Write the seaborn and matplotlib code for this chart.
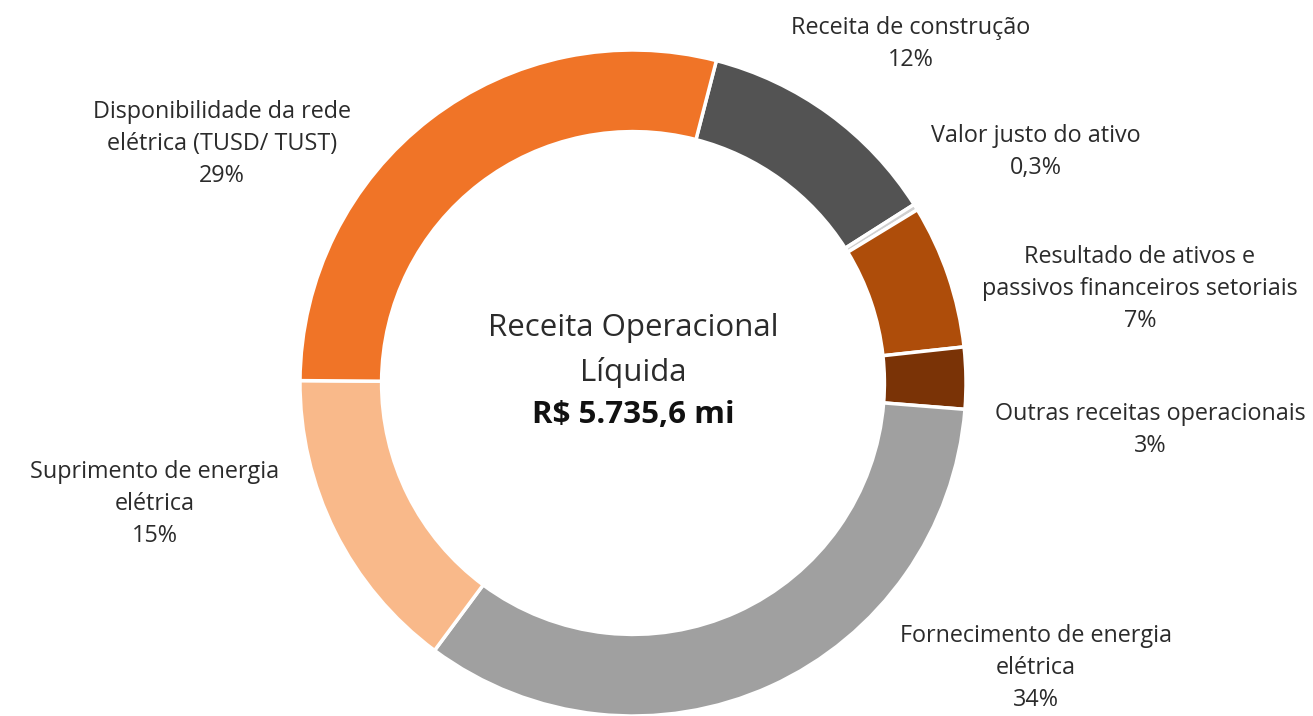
import matplotlib
matplotlib.use("Agg")
import matplotlib.pyplot as plt
import seaborn as sns

sns.set_theme(style="white")
plt.rcParams['font.family'] = ['Open Sans', 'DejaVu Sans']

categories = ["Receita de construção", "Valor justo do ativo",
              "Resultado de ativos e\npassivos financeiros setoriais",
              "Outras receitas operacionais",
              "Fornecimento de energia\nelétrica",
              "Suprimento de energia\nelétrica",
              "Disponibilidade da rede\nelétrica (TUSD/ TUST)"]
values = [12, 0.3, 7, 3, 34, 15, 29]
pct_labels = ["12%", "0,3%", "7%", "3%", "34%", "15%", "29%"]
colors = ["#535353", "#D0D0D0", "#AE4D0A", "#7A3306", "#A0A0A0", "#F9B98A", "#F07427"]
center_lines = ["Receita Operacional", "Líquida"]
center_total = "R$ 5.735,6 mi"

W, H = 1313, 716
fig = plt.figure(figsize=(W / 100, H / 100), dpi=100)
ax = fig.add_axes([0, 0, 1, 1])

cx, cy, R = 633, H - 383, 333
ax.pie(values, colors=colors, startangle=75.5, counterclock=False,
       center=(cx, cy), radius=R,
       wedgeprops=dict(width=R * 0.245, edgecolor="white", linewidth=2.5))
ax.set_xlim(0, W)
ax.set_ylim(0, H)
ax.set_aspect("equal")
ax.axis("off")

# label anchor positions (image pixel coords of text block centres)
label_pos = [(911, 44), (1036, 152), (1140, 289), (1150, 430),
             (1036, 668), (155, 504), (222, 144)]
for cat, pct, (x, y) in zip(categories, pct_labels, label_pos):
    ax.text(x, H - y, f"{cat}\n{pct}", ha="center", va="center",
            fontsize=16.8, color="#2b2b2b", linespacing=1.46)

for line, y in zip(center_lines, [328, 372]):
    ax.text(cx, H - y, line, ha="center", va="center",
            fontsize=22.5, color="#2b2b2b")
ax.text(cx, H - 415, center_total, ha="center", va="center",
        fontsize=22.5, fontweight="bold", color="#111111")

fig.savefig("out.png", dpi=100, facecolor="white")
